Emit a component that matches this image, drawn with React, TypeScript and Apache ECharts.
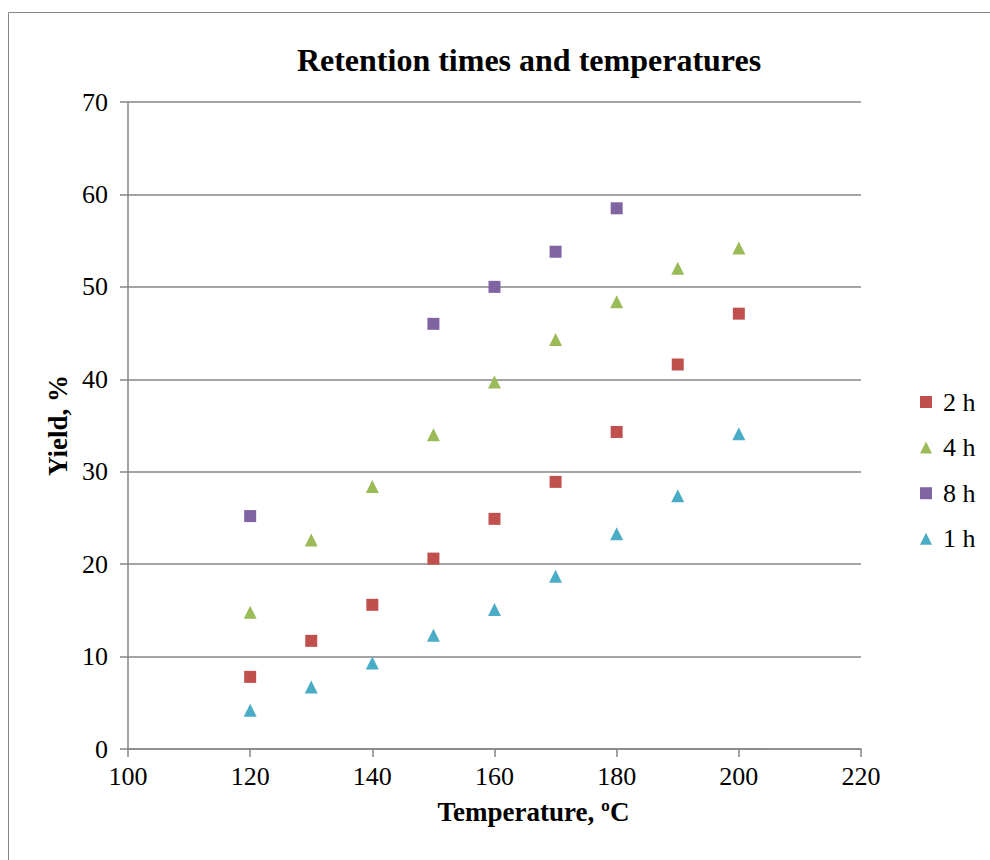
import React, { useEffect, useRef } from "react";
import * as echarts from "echarts";

const temps = [120, 130, 140, 150, 160, 170, 180, 190, 200];
const temps8h = [120, 150, 160, 170, 180];
const yield2h = [7.8, 11.7, 15.6, 20.6, 24.9, 28.9, 34.3, 41.6, 47.1];
const yield4h = [14.8, 22.6, 28.4, 34.0, 39.7, 44.3, 48.4, 52.0, 54.2];
const yield8h = [25.2, 46.0, 50.0, 53.8, 58.5];
const yield1h = [4.2, 6.7, 9.3, 12.3, 15.1, 18.7, 23.3, 27.4, 34.1];
const seriesNames = ["2 h", "4 h", "8 h", "1 h"];
const colors = ["#C0504D", "#9BBB59", "#8064A2", "#4BACC6"];
const symbols = ["rect", "triangle", "rect", "triangle"];

const FONT = "'Liberation Serif', 'Times New Roman', serif";

export default function App() {
  const ref = useRef<HTMLDivElement>(null);
  useEffect(() => {
    if (!ref.current) return;
    const chart = echarts.init(ref.current, null, { renderer: "svg" });
    const xs = [temps, temps, temps8h, temps];
    const ys = [yield2h, yield4h, yield8h, yield1h];
    const series = seriesNames.map((name, i) => ({
      name,
      type: "scatter",
      symbol: symbols[i],
      symbolSize: symbols[i] === "rect" ? 12 : 13,
      itemStyle: { color: colors[i], opacity: 1 },
      data: xs[i].map((x, j) => [x, ys[i][j]]),
    }));
    chart.setOption({
      animation: false,
      textStyle: { fontFamily: FONT },
      title: {
        text: "Retention times and temperatures",
        left: 524,
        top: 39,
        textAlign: "center",
        textStyle: { fontFamily: FONT, fontSize: 32, fontWeight: "bold", color: "#000" },
      },
      graphic: [
        {
          type: "rect",
          shape: { x: 8.5, y: 12.5, width: 1100, height: 1000 },
          style: { fill: "none", stroke: "#868686", lineWidth: 1 },
          silent: true,
        },
      ],
      grid: { left: 128, top: 102, width: 733, height: 647, containLabel: false },
      legend: {
        orient: "vertical",
        left: 915,
        top: 384,
        itemWidth: 12,
        itemHeight: 12,
        itemGap: 19.6,
        textStyle: { fontFamily: FONT, fontSize: 26, color: "#000", padding: [0, 0, 0, 6] },
        data: seriesNames.map((n, i) => ({ name: n, icon: symbols[i], itemStyle: { opacity: 1 } })),
      },
      xAxis: {
        type: "value",
        min: 100,
        max: 220,
        interval: 20,
        name: "Temperature, ºC",
        nameLocation: "middle",
        nameGap: 49,
        nameTextStyle: {
          fontFamily: FONT,
          fontSize: 27,
          fontWeight: "bold",
          color: "#000",
          padding: [0, 0, 0, 78],
        },
        axisLine: { show: true, lineStyle: { color: "#868686", width: 1.5 } },
        axisTick: { show: true, length: 8, lineStyle: { color: "#868686", width: 1.5 } },
        axisLabel: { fontFamily: FONT, fontSize: 26, color: "#000", margin: 14 },
        splitLine: { show: false },
      },
      yAxis: {
        type: "value",
        min: 0,
        max: 70,
        interval: 10,
        name: "Yield, %",
        nameLocation: "middle",
        nameGap: 57,
        nameTextStyle: { fontFamily: FONT, fontSize: 27, fontWeight: "bold", color: "#000" },
        axisLine: { show: true, lineStyle: { color: "#868686", width: 1.5 } },
        axisTick: { show: true, length: 8, lineStyle: { color: "#868686", width: 1.5 } },
        axisLabel: { fontFamily: FONT, fontSize: 26, color: "#000", margin: 20 },
        splitLine: { show: true, lineStyle: { color: "#868686", width: 1.5 } },
      },
      series,
    });
    return () => chart.dispose();
  }, []);
  return (
    <div
      ref={ref}
      style={{ position: "absolute", left: 0, top: 0, width: 990, height: 860, background: "#fff" }}
    />
  );
}
